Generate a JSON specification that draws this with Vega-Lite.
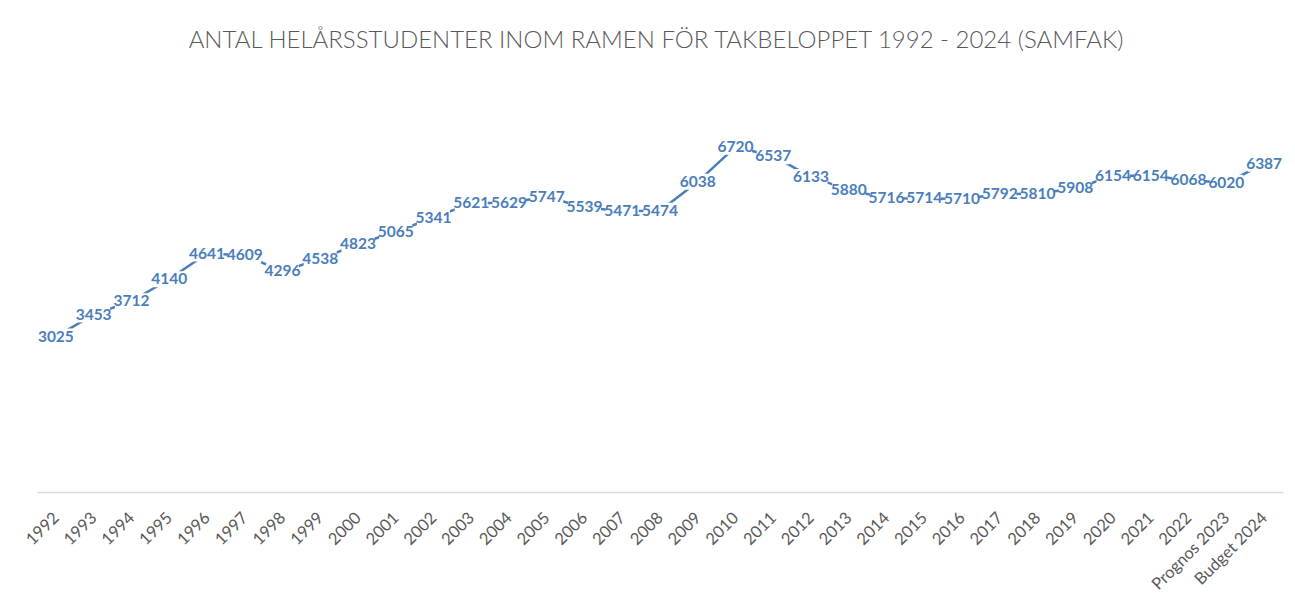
{
  "$schema": "https://vega.github.io/schema/vega-lite/v6.json",
  "autosize": "none",
  "width": 1246,
  "height": 411,
  "padding": {"left": 37, "top": 81, "right": 12, "bottom": 111},
  "background": "white",
  "title": {
    "text": "ANTAL HELÅRSSTUDENTER INOM RAMEN FÖR TAKBELOPPET 1992 - 2024 (SAMFAK)",
    "font": "Lato",
    "fontSize": 24,
    "fontWeight": 300,
    "color": "#595959",
    "anchor": "middle",
    "offset": 28,
    "dx": -4
  },
  "data": {
    "values": [
      {"year": "1992", "value": 3025},
      {"year": "1993", "value": 3453},
      {"year": "1994", "value": 3712},
      {"year": "1995", "value": 4140},
      {"year": "1996", "value": 4641},
      {"year": "1997", "value": 4609},
      {"year": "1998", "value": 4296},
      {"year": "1999", "value": 4538},
      {"year": "2000", "value": 4823},
      {"year": "2001", "value": 5065},
      {"year": "2002", "value": 5341},
      {"year": "2003", "value": 5621},
      {"year": "2004", "value": 5629},
      {"year": "2005", "value": 5747},
      {"year": "2006", "value": 5539},
      {"year": "2007", "value": 5471},
      {"year": "2008", "value": 5474},
      {"year": "2009", "value": 6038},
      {"year": "2010", "value": 6720},
      {"year": "2011", "value": 6537},
      {"year": "2012", "value": 6133},
      {"year": "2013", "value": 5880},
      {"year": "2014", "value": 5716},
      {"year": "2015", "value": 5714},
      {"year": "2016", "value": 5710},
      {"year": "2017", "value": 5792},
      {"year": "2018", "value": 5810},
      {"year": "2019", "value": 5908},
      {"year": "2020", "value": 6154},
      {"year": "2021", "value": 6154},
      {"year": "2022", "value": 6068},
      {"year": "Prognos 2023", "value": 6020},
      {"year": "Budget 2024", "value": 6387}
    ]
  },
  "encoding": {
    "x": {
      "field": "year",
      "type": "ordinal",
      "sort": null,
      "scale": {"type": "point", "padding": 0.5},
      "axis": {
        "title": null,
        "labelAngle": -45,
        "labelAlign": "right",
        "labelBaseline": "middle",
        "labelPadding": 23,
        "labelFont": "Lato",
        "labelFontSize": 16.5,
        "labelColor": "#595959",
        "labelOverlap": false,
        "ticks": false,
        "domainColor": "#d9d9d9",
        "domainWidth": 1.5,
        "grid": false
      }
    },
    "y": {
      "field": "value",
      "type": "quantitative",
      "scale": {"domain": [0, 8000], "nice": false, "zero": true},
      "axis": null
    }
  },
  "layer": [
    {
      "mark": {"type": "line", "color": "#4a7ebb", "strokeWidth": 2.5}
    },
    {
      "mark": {
        "type": "point",
        "shape": "M-1.65,-0.8H1.65V0.8H-1.65Z",
        "size": 400,
        "filled": true,
        "color": "white",
        "opacity": 1,
        "strokeWidth": 0
      }
    },
    {
      "mark": {
        "type": "text",
        "font": "Lato",
        "fontSize": 15.5,
        "fontWeight": "bold",
        "color": "#4a7ebb",
        "align": "center",
        "baseline": "middle"
      },
      "encoding": {"text": {"field": "value", "type": "quantitative", "format": "d"}}
    }
  ],
  "config": {"view": {"stroke": null}}
}
